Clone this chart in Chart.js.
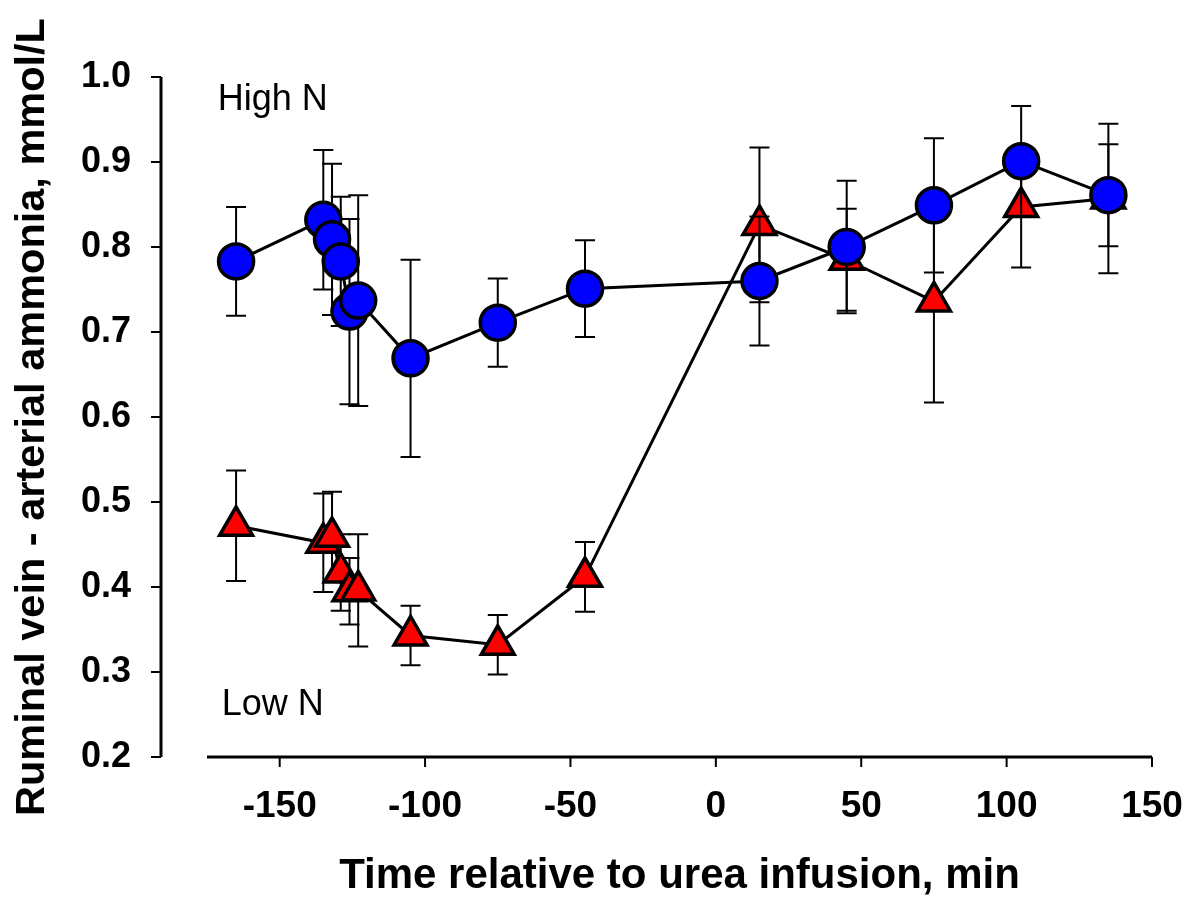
<!DOCTYPE html>
<html>
<head>
<meta charset="utf-8">
<script src="https://cdn.jsdelivr.net/npm/chart.js@4.4.1/dist/chart.umd.min.js"></script>
<style>
    html, body { margin: 0; padding: 0; background: #fff; }
    #wrap { width: 1186px; height: 897px; position: relative; }
</style>
</head>
<body>
<div id="wrap"><canvas id="chart"></canvas></div>
<script>
// time relative to urea infusion, min
const times = [-165, -135, -132, -129, -126, -123, -105, -75, -45, 15, 45, 75, 105, 135];

// High N (circles), mean and SEM
const highN = [0.783, 0.832, 0.809, 0.783, 0.724, 0.737, 0.669, 0.711, 0.751, 0.760, 0.800, 0.849, 0.901, 0.861];
const highNSem = [0.064, 0.082, 0.089, 0.076, 0.109, 0.124, 0.116, 0.052, 0.057, 0.076, 0.078, 0.079, 0.065, 0.060];

// Low N (triangles), mean and SEM
const lowN = [0.472, 0.452, 0.459, 0.417, 0.395, 0.396, 0.343, 0.332, 0.412, 0.826, 0.785, 0.736, 0.847, 0.857];
const lowNSem = [0.065, 0.058, 0.053, 0.045, 0.039, 0.066, 0.035, 0.035, 0.041, 0.091, 0.060, 0.119, 0.071, 0.088];

const xTicks = [-150, -100, -50, 0, 50, 100, 150];
const yTicks = [0.2, 0.3, 0.4, 0.5, 0.6, 0.7, 0.8, 0.9, 1.0];

const FONT = "'Liberation Sans', Arial, sans-serif";

const toPoints = (vals) => times.map((t, i) => ({ x: t, y: vals[i] }));
const sems = [highNSem, lowNSem];

// no extra room for half tick labels, the chart area is set by layout padding
const noPad = (s) => {
    s.paddingTop = 0;
    s.paddingBottom = 0;
    s.paddingLeft = 0;
    s.paddingRight = 0;
};

// error bars drawn just before their own dataset, so markers sit on top
const errorBars = {
    id: "errorBars",
    beforeDatasetDraw(chart, args) {
        const { ctx, scales: { x, y } } = chart;
        const ds = chart.data.datasets[args.index];
        const sem = sems[args.index];
        ctx.save();
        ctx.strokeStyle = "#000";
        ctx.lineWidth = 2;
        ds.data.forEach((p, i) => {
            const px = x.getPixelForValue(p.x);
            const top = y.getPixelForValue(p.y + sem[i]);
            const bot = y.getPixelForValue(p.y - sem[i]);
            ctx.beginPath();
            ctx.moveTo(px, top);
            ctx.lineTo(px, bot);
            ctx.moveTo(px - 10, top);
            ctx.lineTo(px + 10, top);
            ctx.moveTo(px - 10, bot);
            ctx.lineTo(px + 10, bot);
            ctx.stroke();
        });
        ctx.restore();
    },
};

// detached axis lines like the original figure
const axes = {
    id: "axes",
    beforeDatasetsDraw(chart) {
        const { ctx, scales: { x, y } } = chart;
        const x0 = x.getPixelForValue(-175);
        const x1 = x.getPixelForValue(150);
        const yb = y.getPixelForValue(0.2);
        const yt = y.getPixelForValue(1.0);
        const ax = x0 - 46;
        ctx.save();
        ctx.strokeStyle = "#000";
        ctx.lineWidth = 3;
        ctx.beginPath();
        ctx.moveTo(ax, yt);
        ctx.lineTo(ax, yb);
        ctx.moveTo(x0, yb);
        ctx.lineTo(x1, yb);
        ctx.stroke();
        ctx.lineWidth = 2;
        ctx.beginPath();
        yTicks.forEach((v) => {
            const py = y.getPixelForValue(v);
            ctx.moveTo(ax - 10, py);
            ctx.lineTo(ax, py);
        });
        xTicks.forEach((v) => {
            const px = x.getPixelForValue(v);
            ctx.moveTo(px, yb);
            ctx.lineTo(px, yb + 10);
        });
        ctx.stroke();

        ctx.fillStyle = "#000";
        ctx.font = "36px " + FONT;
        ctx.textAlign = "left";
        ctx.textBaseline = "alphabetic";
        ctx.fillText("High N", x.getPixelForValue(-171.3), y.getPixelForValue(0.961));
        ctx.fillText("Low N", x.getPixelForValue(-169.9), y.getPixelForValue(0.249));
        ctx.restore();
    },
};

new Chart(document.getElementById("chart"), {
    type: "line",
    data: {
        datasets: [
            {
                label: "High N",
                data: toPoints(highN),
                borderColor: "#000",
                borderWidth: 3,
                pointStyle: "circle",
                pointRadius: 17.5,
                pointBackgroundColor: "#0000ff",
                pointBorderColor: "#000",
                pointBorderWidth: 3.5,
            },
            {
                label: "Low N",
                data: toPoints(lowN),
                borderColor: "#000",
                borderWidth: 3,
                pointStyle: "triangle",
                pointRadius: 19,
                pointBackgroundColor: "#ff0000",
                pointBorderColor: "#000",
                pointBorderWidth: 3.5,
            },
        ],
    },
    options: {
        responsive: true,
        maintainAspectRatio: false,
        animation: false,
        clip: false,
        elements: {
            line: { tension: 0 },
        },
        layout: {
            padding: { left: 0, right: 34, top: 77, bottom: 0 },
        },
        scales: {
            x: {
                type: "linear",
                min: -175,
                max: 150,
                afterFit: (s) => { s.height = 140; noPad(s); },
                afterBuildTicks: (s) => { s.ticks = xTicks.map((v) => ({ value: v })); },
                grid: { display: false, drawTicks: false },
                border: { display: false },
                ticks: {
                    padding: 28,
                    maxRotation: 0,
                    autoSkip: false,
                    color: "#000",
                    font: { family: FONT, size: 37, weight: "bold" },
                },
                title: {
                    display: true,
                    text: "Time relative to urea infusion, min",
                    color: "#000",
                    padding: { top: 0, bottom: 0 },
                    font: { family: FONT, size: 42, weight: "bold", lineHeight: 1 },
                },
            },
            y: {
                min: 0.2,
                max: 1.0,
                afterFit: (s) => { s.width = 207; noPad(s); },
                afterBuildTicks: (s) => { s.ticks = yTicks.map((v) => ({ value: v })); },
                grid: { display: false, drawTicks: false },
                border: { display: false },
                ticks: {
                    padding: 76,
                    color: "#000",
                    font: { family: FONT, size: 36, weight: "bold" },
                    callback: (v) => Number(v).toFixed(1),
                },
                title: {
                    display: true,
                    text: "Ruminal vein - arterial ammonia, mmol/L",
                    color: "#000",
                    padding: { top: 12, bottom: 0 },
                    font: { family: FONT, size: 41.5, weight: "bold", lineHeight: 1 },
                },
            },
        },
        plugins: {
            legend: { display: false },
            tooltip: { enabled: false },
        },
    },
    plugins: [errorBars, axes],
});
</script>
</body>
</html>
